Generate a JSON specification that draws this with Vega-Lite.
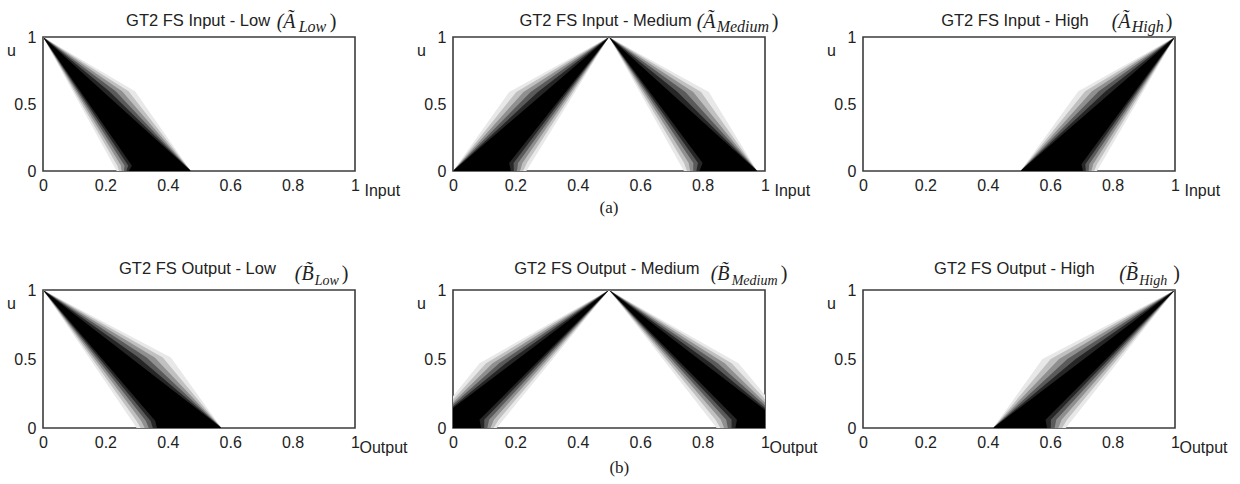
{
"$schema": "https://vega.github.io/schema/vega-lite/v6.json",
"background": "white",
"autosize": {"type": "pad"},
"padding": {"left": 5, "top": 11, "right": 5, "bottom": 5},
"config": {
  "view": {"stroke": "#3c3c3c", "strokeWidth": 1.6},
  "axis": {"domain": false, "ticks": false, "tickSize": 0, "grid": false, "labelFont": "Liberation Sans", "labelFontSize": 16, "labelColor": "#222", "titleFont": "Liberation Sans", "titleFontSize": 16, "titleFontWeight": "normal", "titleColor": "#222", "labelFlush": false},
  "axisX": {"labelPadding": 6},
  "axisY": {"labelPadding": 7},
  "text": {"color": "#222"}
},
"datasets": {
"fs": [
{"set":"AL","side":"M","lvl":0,"u":0,"xa":0.236,"xb":0.474},{"set":"AL","side":"M","lvl":0,"u":0.04,"xa":0.2266,"xb":0.462},{"set":"AL","side":"M","lvl":0,"u":0.596,"xa":0.0953,"xb":0.295},{"set":"AL","side":"M","lvl":0,"u":1,"xa":0,"xb":0},
{"set":"AL","side":"M","lvl":1,"u":0,"xa":0.2438,"xb":0.474},{"set":"AL","side":"M","lvl":1,"u":0.04,"xa":0.2383,"xb":0.4606},{"set":"AL","side":"M","lvl":1,"u":0.596,"xa":0.1002,"xb":0.2743},{"set":"AL","side":"M","lvl":1,"u":1,"xa":0,"xb":0},
{"set":"AL","side":"M","lvl":2,"u":0,"xa":0.2516,"xb":0.474},{"set":"AL","side":"M","lvl":2,"u":0.04,"xa":0.25,"xb":0.4592},{"set":"AL","side":"M","lvl":2,"u":0.596,"xa":0.1051,"xb":0.2536},{"set":"AL","side":"M","lvl":2,"u":1,"xa":0,"xb":0},
{"set":"AL","side":"M","lvl":3,"u":0,"xa":0.2594,"xb":0.474},{"set":"AL","side":"M","lvl":3,"u":0.04,"xa":0.2616,"xb":0.4578},{"set":"AL","side":"M","lvl":3,"u":0.596,"xa":0.1101,"xb":0.2329},{"set":"AL","side":"M","lvl":3,"u":1,"xa":0,"xb":0},
{"set":"AL","side":"M","lvl":4,"u":0,"xa":0.2672,"xb":0.474},{"set":"AL","side":"M","lvl":4,"u":0.04,"xa":0.2733,"xb":0.4564},{"set":"AL","side":"M","lvl":4,"u":0.596,"xa":0.115,"xb":0.2122},{"set":"AL","side":"M","lvl":4,"u":1,"xa":0,"xb":0},
{"set":"AL","side":"M","lvl":5,"u":0,"xa":0.275,"xb":0.474},{"set":"AL","side":"M","lvl":5,"u":0.04,"xa":0.285,"xb":0.455},{"set":"AL","side":"M","lvl":5,"u":0.596,"xa":0.1199,"xb":0.1915},{"set":"AL","side":"M","lvl":5,"u":1,"xa":0,"xb":0},

{"set":"AM","side":"L","lvl":0,"u":0,"xa":0,"xb":0.235},{"set":"AM","side":"L","lvl":0,"u":0.06,"xa":0.0183,"xb":0.2509},{"set":"AM","side":"L","lvl":0,"u":0.59,"xa":0.18,"xb":0.3914},{"set":"AM","side":"L","lvl":0,"u":1,"xa":0.5,"xb":0.5},
{"set":"AM","side":"L","lvl":1,"u":0,"xa":0,"xb":0.225},{"set":"AM","side":"L","lvl":1,"u":0.06,"xa":0.0206,"xb":0.2367},{"set":"AM","side":"L","lvl":1,"u":0.59,"xa":0.203,"xb":0.3852},{"set":"AM","side":"L","lvl":1,"u":1,"xa":0.5,"xb":0.5},
{"set":"AM","side":"L","lvl":2,"u":0,"xa":0,"xb":0.215},{"set":"AM","side":"L","lvl":2,"u":0.06,"xa":0.023,"xb":0.2225},{"set":"AM","side":"L","lvl":2,"u":0.59,"xa":0.226,"xb":0.379},{"set":"AM","side":"L","lvl":2,"u":1,"xa":0.5,"xb":0.5},
{"set":"AM","side":"L","lvl":3,"u":0,"xa":0,"xb":0.205},{"set":"AM","side":"L","lvl":3,"u":0.06,"xa":0.0253,"xb":0.2084},{"set":"AM","side":"L","lvl":3,"u":0.59,"xa":0.249,"xb":0.3728},{"set":"AM","side":"L","lvl":3,"u":1,"xa":0.5,"xb":0.5},
{"set":"AM","side":"L","lvl":4,"u":0,"xa":0,"xb":0.195},{"set":"AM","side":"L","lvl":4,"u":0.06,"xa":0.0277,"xb":0.1942},{"set":"AM","side":"L","lvl":4,"u":0.59,"xa":0.272,"xb":0.3666},{"set":"AM","side":"L","lvl":4,"u":1,"xa":0.5,"xb":0.5},
{"set":"AM","side":"L","lvl":5,"u":0,"xa":0,"xb":0.185},{"set":"AM","side":"L","lvl":5,"u":0.06,"xa":0.03,"xb":0.18},{"set":"AM","side":"L","lvl":5,"u":0.59,"xa":0.295,"xb":0.3604},{"set":"AM","side":"L","lvl":5,"u":1,"xa":0.5,"xb":0.5},
{"set":"AM","side":"R","lvl":0,"u":0,"xa":0.74,"xb":0.975},{"set":"AM","side":"R","lvl":0,"u":0.06,"xa":0.7256,"xb":0.9592},{"set":"AM","side":"R","lvl":0,"u":0.59,"xa":0.5984,"xb":0.82},{"set":"AM","side":"R","lvl":0,"u":1,"xa":0.5,"xb":0.5},
{"set":"AM","side":"R","lvl":1,"u":0,"xa":0.75,"xb":0.975},{"set":"AM","side":"R","lvl":1,"u":0.06,"xa":0.7405,"xb":0.9567},{"set":"AM","side":"R","lvl":1,"u":0.59,"xa":0.6049,"xb":0.795},{"set":"AM","side":"R","lvl":1,"u":1,"xa":0.5,"xb":0.5},
{"set":"AM","side":"R","lvl":2,"u":0,"xa":0.76,"xb":0.975},{"set":"AM","side":"R","lvl":2,"u":0.06,"xa":0.7554,"xb":0.9541},{"set":"AM","side":"R","lvl":2,"u":0.59,"xa":0.6114,"xb":0.7699},{"set":"AM","side":"R","lvl":2,"u":1,"xa":0.5,"xb":0.5},
{"set":"AM","side":"R","lvl":3,"u":0,"xa":0.77,"xb":0.975},{"set":"AM","side":"R","lvl":3,"u":0.06,"xa":0.7702,"xb":0.9516},{"set":"AM","side":"R","lvl":3,"u":0.59,"xa":0.6179,"xb":0.7449},{"set":"AM","side":"R","lvl":3,"u":1,"xa":0.5,"xb":0.5},
{"set":"AM","side":"R","lvl":4,"u":0,"xa":0.78,"xb":0.975},{"set":"AM","side":"R","lvl":4,"u":0.06,"xa":0.7851,"xb":0.949},{"set":"AM","side":"R","lvl":4,"u":0.59,"xa":0.6244,"xb":0.7198},{"set":"AM","side":"R","lvl":4,"u":1,"xa":0.5,"xb":0.5},
{"set":"AM","side":"R","lvl":5,"u":0,"xa":0.79,"xb":0.975},{"set":"AM","side":"R","lvl":5,"u":0.06,"xa":0.8,"xb":0.9465},{"set":"AM","side":"R","lvl":5,"u":0.59,"xa":0.6309,"xb":0.6948},{"set":"AM","side":"R","lvl":5,"u":1,"xa":0.5,"xb":0.5},

{"set":"AH","side":"M","lvl":0,"u":0,"xa":0.505,"xb":0.75},{"set":"AH","side":"M","lvl":0,"u":0.05,"xa":0.5205,"xb":0.7625},{"set":"AH","side":"M","lvl":0,"u":0.595,"xa":0.69,"xb":0.8988},{"set":"AH","side":"M","lvl":0,"u":1,"xa":1,"xb":1},
{"set":"AH","side":"M","lvl":1,"u":0,"xa":0.505,"xb":0.741},{"set":"AH","side":"M","lvl":1,"u":0.05,"xa":0.5224,"xb":0.75},{"set":"AH","side":"M","lvl":1,"u":0.595,"xa":0.7119,"xb":0.8935},{"set":"AH","side":"M","lvl":1,"u":1,"xa":1,"xb":1},
{"set":"AH","side":"M","lvl":2,"u":0,"xa":0.505,"xb":0.732},{"set":"AH","side":"M","lvl":2,"u":0.05,"xa":0.5242,"xb":0.7375},{"set":"AH","side":"M","lvl":2,"u":0.595,"xa":0.7338,"xb":0.8881},{"set":"AH","side":"M","lvl":2,"u":1,"xa":1,"xb":1},
{"set":"AH","side":"M","lvl":3,"u":0,"xa":0.505,"xb":0.723},{"set":"AH","side":"M","lvl":3,"u":0.05,"xa":0.5261,"xb":0.725},{"set":"AH","side":"M","lvl":3,"u":0.595,"xa":0.7557,"xb":0.8828},{"set":"AH","side":"M","lvl":3,"u":1,"xa":1,"xb":1},
{"set":"AH","side":"M","lvl":4,"u":0,"xa":0.505,"xb":0.714},{"set":"AH","side":"M","lvl":4,"u":0.05,"xa":0.5279,"xb":0.7125},{"set":"AH","side":"M","lvl":4,"u":0.595,"xa":0.7776,"xb":0.8774},{"set":"AH","side":"M","lvl":4,"u":1,"xa":1,"xb":1},
{"set":"AH","side":"M","lvl":5,"u":0,"xa":0.505,"xb":0.705},{"set":"AH","side":"M","lvl":5,"u":0.05,"xa":0.5298,"xb":0.7},{"set":"AH","side":"M","lvl":5,"u":0.595,"xa":0.7995,"xb":0.8721},{"set":"AH","side":"M","lvl":5,"u":1,"xa":1,"xb":1},

{"set":"BL","side":"M","lvl":0,"u":0,"xa":0.3,"xb":0.572},{"set":"BL","side":"M","lvl":0,"u":0.05,"xa":0.285,"xb":0.5561},{"set":"BL","side":"M","lvl":0,"u":0.51,"xa":0.147,"xb":0.41},{"set":"BL","side":"M","lvl":0,"u":1,"xa":0,"xb":0},
{"set":"BL","side":"M","lvl":1,"u":0,"xa":0.313,"xb":0.572},{"set":"BL","side":"M","lvl":1,"u":0.05,"xa":0.3,"xb":0.5536},{"set":"BL","side":"M","lvl":1,"u":0.51,"xa":0.1547,"xb":0.3841},{"set":"BL","side":"M","lvl":1,"u":1,"xa":0,"xb":0},
{"set":"BL","side":"M","lvl":2,"u":0,"xa":0.326,"xb":0.572},{"set":"BL","side":"M","lvl":2,"u":0.05,"xa":0.315,"xb":0.551},{"set":"BL","side":"M","lvl":2,"u":0.51,"xa":0.1625,"xb":0.3581},{"set":"BL","side":"M","lvl":2,"u":1,"xa":0,"xb":0},
{"set":"BL","side":"M","lvl":3,"u":0,"xa":0.339,"xb":0.572},{"set":"BL","side":"M","lvl":3,"u":0.05,"xa":0.33,"xb":0.5485},{"set":"BL","side":"M","lvl":3,"u":0.51,"xa":0.1702,"xb":0.3322},{"set":"BL","side":"M","lvl":3,"u":1,"xa":0,"xb":0},
{"set":"BL","side":"M","lvl":4,"u":0,"xa":0.352,"xb":0.572},{"set":"BL","side":"M","lvl":4,"u":0.05,"xa":0.345,"xb":0.5459},{"set":"BL","side":"M","lvl":4,"u":0.51,"xa":0.178,"xb":0.3062},{"set":"BL","side":"M","lvl":4,"u":1,"xa":0,"xb":0},
{"set":"BL","side":"M","lvl":5,"u":0,"xa":0.365,"xb":0.572},{"set":"BL","side":"M","lvl":5,"u":0.05,"xa":0.36,"xb":0.5434},{"set":"BL","side":"M","lvl":5,"u":0.51,"xa":0.1857,"xb":0.2803},{"set":"BL","side":"M","lvl":5,"u":1,"xa":0,"xb":0},

{"set":"BM","side":"L","lvl":0,"u":0,"xa":-0.09,"xb":0.14},{"set":"BM","side":"L","lvl":0,"u":0.06,"xa":-0.0602,"xb":0.1616},{"set":"BM","side":"L","lvl":0,"u":0.47,"xa":0.085,"xb":0.3092},{"set":"BM","side":"L","lvl":0,"u":1,"xa":0.5,"xb":0.5},
{"set":"BM","side":"L","lvl":1,"u":0,"xa":-0.089,"xb":0.13},{"set":"BM","side":"L","lvl":1,"u":0.06,"xa":-0.0581,"xb":0.1463},{"set":"BM","side":"L","lvl":1,"u":0.47,"xa":0.106,"xb":0.3006},{"set":"BM","side":"L","lvl":1,"u":1,"xa":0.5,"xb":0.5},
{"set":"BM","side":"L","lvl":2,"u":0,"xa":-0.0879,"xb":0.12},{"set":"BM","side":"L","lvl":2,"u":0.06,"xa":-0.056,"xb":0.131},{"set":"BM","side":"L","lvl":2,"u":0.47,"xa":0.127,"xb":0.2919},{"set":"BM","side":"L","lvl":2,"u":1,"xa":0.5,"xb":0.5},
{"set":"BM","side":"L","lvl":3,"u":0,"xa":-0.0869,"xb":0.11},{"set":"BM","side":"L","lvl":3,"u":0.06,"xa":-0.0539,"xb":0.1156},{"set":"BM","side":"L","lvl":3,"u":0.47,"xa":0.1481,"xb":0.2833},{"set":"BM","side":"L","lvl":3,"u":1,"xa":0.5,"xb":0.5},
{"set":"BM","side":"L","lvl":4,"u":0,"xa":-0.0858,"xb":0.1},{"set":"BM","side":"L","lvl":4,"u":0.06,"xa":-0.0518,"xb":0.1003},{"set":"BM","side":"L","lvl":4,"u":0.47,"xa":0.1691,"xb":0.2746},{"set":"BM","side":"L","lvl":4,"u":1,"xa":0.5,"xb":0.5},
{"set":"BM","side":"L","lvl":5,"u":0,"xa":-0.0848,"xb":0.09},{"set":"BM","side":"L","lvl":5,"u":0.06,"xa":-0.0497,"xb":0.085},{"set":"BM","side":"L","lvl":5,"u":0.47,"xa":0.1901,"xb":0.266},{"set":"BM","side":"L","lvl":5,"u":1,"xa":0.5,"xb":0.5},
{"set":"BM","side":"R","lvl":0,"u":0,"xa":0.845,"xb":1.09},{"set":"BM","side":"R","lvl":0,"u":0.06,"xa":0.8243,"xb":1.0665},{"set":"BM","side":"R","lvl":0,"u":0.47,"xa":0.6829,"xb":0.915},{"set":"BM","side":"R","lvl":0,"u":1,"xa":0.5,"xb":0.5},
{"set":"BM","side":"R","lvl":1,"u":0,"xa":0.857,"xb":1.0869},{"set":"BM","side":"R","lvl":1,"u":0.06,"xa":0.8414,"xb":1.0612},{"set":"BM","side":"R","lvl":1,"u":0.47,"xa":0.6926,"xb":0.8929},{"set":"BM","side":"R","lvl":1,"u":1,"xa":0.5,"xb":0.5},
{"set":"BM","side":"R","lvl":2,"u":0,"xa":0.869,"xb":1.0839},{"set":"BM","side":"R","lvl":2,"u":0.06,"xa":0.8586,"xb":1.056},{"set":"BM","side":"R","lvl":2,"u":0.47,"xa":0.7022,"xb":0.8708},{"set":"BM","side":"R","lvl":2,"u":1,"xa":0.5,"xb":0.5},
{"set":"BM","side":"R","lvl":3,"u":0,"xa":0.881,"xb":1.0808},{"set":"BM","side":"R","lvl":3,"u":0.06,"xa":0.8757,"xb":1.0507},{"set":"BM","side":"R","lvl":3,"u":0.47,"xa":0.7119,"xb":0.8488},{"set":"BM","side":"R","lvl":3,"u":1,"xa":0.5,"xb":0.5},
{"set":"BM","side":"R","lvl":4,"u":0,"xa":0.893,"xb":1.0778},{"set":"BM","side":"R","lvl":4,"u":0.06,"xa":0.8929,"xb":1.0455},{"set":"BM","side":"R","lvl":4,"u":0.47,"xa":0.7215,"xb":0.8267},{"set":"BM","side":"R","lvl":4,"u":1,"xa":0.5,"xb":0.5},
{"set":"BM","side":"R","lvl":5,"u":0,"xa":0.905,"xb":1.0747},{"set":"BM","side":"R","lvl":5,"u":0.06,"xa":0.91,"xb":1.0402},{"set":"BM","side":"R","lvl":5,"u":0.47,"xa":0.7312,"xb":0.8046},{"set":"BM","side":"R","lvl":5,"u":1,"xa":0.5,"xb":0.5},

{"set":"BH","side":"M","lvl":0,"u":0,"xa":0.417,"xb":0.65},{"set":"BH","side":"M","lvl":0,"u":0.06,"xa":0.436,"xb":0.671},{"set":"BH","side":"M","lvl":0,"u":0.5,"xa":0.575,"xb":0.825},{"set":"BH","side":"M","lvl":0,"u":1,"xa":1,"xb":1},
{"set":"BH","side":"M","lvl":1,"u":0,"xa":0.417,"xb":0.638},{"set":"BH","side":"M","lvl":1,"u":0.06,"xa":0.4392,"xb":0.6538},{"set":"BH","side":"M","lvl":1,"u":0.5,"xa":0.6017,"xb":0.8159},{"set":"BH","side":"M","lvl":1,"u":1,"xa":1,"xb":1},
{"set":"BH","side":"M","lvl":2,"u":0,"xa":0.417,"xb":0.626},{"set":"BH","side":"M","lvl":2,"u":0.06,"xa":0.4424,"xb":0.6366},{"set":"BH","side":"M","lvl":2,"u":0.5,"xa":0.6284,"xb":0.8067},{"set":"BH","side":"M","lvl":2,"u":1,"xa":1,"xb":1},
{"set":"BH","side":"M","lvl":3,"u":0,"xa":0.417,"xb":0.614},{"set":"BH","side":"M","lvl":3,"u":0.06,"xa":0.4456,"xb":0.6194},{"set":"BH","side":"M","lvl":3,"u":0.5,"xa":0.6551,"xb":0.7976},{"set":"BH","side":"M","lvl":3,"u":1,"xa":1,"xb":1},
{"set":"BH","side":"M","lvl":4,"u":0,"xa":0.417,"xb":0.602},{"set":"BH","side":"M","lvl":4,"u":0.06,"xa":0.4488,"xb":0.6022},{"set":"BH","side":"M","lvl":4,"u":0.5,"xa":0.6818,"xb":0.7884},{"set":"BH","side":"M","lvl":4,"u":1,"xa":1,"xb":1},
{"set":"BH","side":"M","lvl":5,"u":0,"xa":0.417,"xb":0.59},{"set":"BH","side":"M","lvl":5,"u":0.06,"xa":0.452,"xb":0.585},{"set":"BH","side":"M","lvl":5,"u":0.5,"xa":0.7085,"xb":0.7793},{"set":"BH","side":"M","lvl":5,"u":1,"xa":1,"xb":1}
]
},
"columns": 3,
"bounds": "flush",
"align": "each",
"spacing": {"row": 119, "column": 98},
"concat": [
{
 "width": 312, "height": 134,
 "layer": [
  {"data": {"name": "fs"}, "transform": [{"filter": "datum.set === 'AL'"}],
   "mark": {"type": "area", "orient": "horizontal", "clip": true},
   "encoding": {
    "y": {"field": "u", "type": "quantitative", "scale": {"domain": [0, 1], "nice": false, "zero": false}, "axis": {"values": [0, 0.5, 1], "format": "~g", "title": "u", "titleAngle": 0, "titleX": -32, "titleY": 13, "titleAlign": "center", "titleBaseline": "middle"}},
    "x": {"field": "xa", "type": "quantitative", "stack": null, "scale": {"domain": [0, 1], "nice": false, "zero": false}, "axis": {"values": [0, 0.2, 0.4, 0.6, 0.8, 1], "format": "~g", "title": "Input", "titleX": 321, "titleY": 24, "titleAlign": "left", "titleBaseline": "alphabetic"}},
    "x2": {"field": "xb"},
    "color": {"field": "lvl", "type": "ordinal", "scale": {"domain": [0, 1, 2, 3, 4, 5], "range": ["#e8e8e8", "#c0c0c0", "#8f8f8f", "#5a5a5a", "#262626", "#000000"]}, "legend": null},
    "detail": {"field": "side"}
   }},
  {"data": {"values": [{}]}, "mark": {"type": "text", "font": "Liberation Sans", "fontSize": 16.5, "align": "center", "baseline": "alphabetic"}, "encoding": {"x": {"datum": 0.497}, "y": {"datum": 1.082}, "text": {"value": "GT2 FS Input - Low"}}},
  {"data": {"values": [{}]}, "mark": {"type": "text", "font": "Liberation Serif", "fontStyle": "italic", "fontSize": 20, "align": "left", "baseline": "alphabetic"}, "encoding": {"x": {"datum": 0.749}, "y": {"datum": 1.064}, "text": {"value": "(Ã"}}},
  {"data": {"values": [{}]}, "mark": {"type": "text", "font": "Liberation Serif", "fontStyle": "italic", "fontSize": 16, "align": "left", "baseline": "alphabetic", "dx": 22, "dy": 4}, "encoding": {"x": {"datum": 0.749}, "y": {"datum": 1.064}, "text": {"value": "Low"}}},
  {"data": {"values": [{}]}, "mark": {"type": "text", "font": "Liberation Serif", "fontSize": 20, "align": "left", "baseline": "alphabetic", "dx": 53}, "encoding": {"x": {"datum": 0.749}, "y": {"datum": 1.064}, "text": {"value": ")"}}}
 ]
},
{
 "width": 312, "height": 134,
 "layer": [
  {"data": {"name": "fs"}, "transform": [{"filter": "datum.set === 'AM'"}],
   "mark": {"type": "area", "orient": "horizontal", "clip": true},
   "encoding": {
    "y": {"field": "u", "type": "quantitative", "scale": {"domain": [0, 1], "nice": false, "zero": false}, "axis": {"values": [0, 0.5, 1], "format": "~g", "title": "u", "titleAngle": 0, "titleX": -32, "titleY": 13, "titleAlign": "center", "titleBaseline": "middle"}},
    "x": {"field": "xa", "type": "quantitative", "stack": null, "scale": {"domain": [0, 1], "nice": false, "zero": false}, "axis": {"values": [0, 0.2, 0.4, 0.6, 0.8, 1], "format": "~g", "title": "Input", "titleX": 321, "titleY": 24, "titleAlign": "left", "titleBaseline": "alphabetic"}},
    "x2": {"field": "xb"},
    "color": {"field": "lvl", "type": "ordinal", "scale": {"domain": [0, 1, 2, 3, 4, 5], "range": ["#e8e8e8", "#c0c0c0", "#8f8f8f", "#5a5a5a", "#262626", "#000000"]}, "legend": null},
    "detail": {"field": "side"}
   }},
  {"data": {"values": [{}]}, "mark": {"type": "text", "font": "Liberation Sans", "fontSize": 16.5, "align": "center", "baseline": "alphabetic"}, "encoding": {"x": {"datum": 0.489}, "y": {"datum": 1.082}, "text": {"value": "GT2 FS Input - Medium"}}},
  {"data": {"values": [{}]}, "mark": {"type": "text", "font": "Liberation Serif", "fontStyle": "italic", "fontSize": 20, "align": "left", "baseline": "alphabetic"}, "encoding": {"x": {"datum": 0.781}, "y": {"datum": 1.064}, "text": {"value": "(Ã"}}},
  {"data": {"values": [{}]}, "mark": {"type": "text", "font": "Liberation Serif", "fontStyle": "italic", "fontSize": 16, "align": "left", "baseline": "alphabetic", "dx": 20, "dy": 4}, "encoding": {"x": {"datum": 0.781}, "y": {"datum": 1.064}, "text": {"value": "Medium"}}},
  {"data": {"values": [{}]}, "mark": {"type": "text", "font": "Liberation Serif", "fontSize": 20, "align": "left", "baseline": "alphabetic", "dx": 75}, "encoding": {"x": {"datum": 0.781}, "y": {"datum": 1.064}, "text": {"value": ")"}}},
  {"data": {"values": [{}]}, "mark": {"type": "text", "font": "Liberation Serif", "fontSize": 17, "align": "center", "baseline": "alphabetic"}, "encoding": {"x": {"datum": 0.5}, "y": {"datum": -0.315}, "text": {"value": "(a)"}}}
 ]
},
{
 "width": 312, "height": 134,
 "layer": [
  {"data": {"name": "fs"}, "transform": [{"filter": "datum.set === 'AH'"}],
   "mark": {"type": "area", "orient": "horizontal", "clip": true},
   "encoding": {
    "y": {"field": "u", "type": "quantitative", "scale": {"domain": [0, 1], "nice": false, "zero": false}, "axis": {"values": [0, 0.5, 1], "format": "~g", "title": "u", "titleAngle": 0, "titleX": -32, "titleY": 13, "titleAlign": "center", "titleBaseline": "middle"}},
    "x": {"field": "xa", "type": "quantitative", "stack": null, "scale": {"domain": [0, 1], "nice": false, "zero": false}, "axis": {"values": [0, 0.2, 0.4, 0.6, 0.8, 1], "format": "~g", "title": "Input", "titleX": 321, "titleY": 24, "titleAlign": "left", "titleBaseline": "alphabetic"}},
    "x2": {"field": "xb"},
    "color": {"field": "lvl", "type": "ordinal", "scale": {"domain": [0, 1, 2, 3, 4, 5], "range": ["#e8e8e8", "#c0c0c0", "#8f8f8f", "#5a5a5a", "#262626", "#000000"]}, "legend": null},
    "detail": {"field": "side"}
   }},
  {"data": {"values": [{}]}, "mark": {"type": "text", "font": "Liberation Sans", "fontSize": 16.5, "align": "center", "baseline": "alphabetic"}, "encoding": {"x": {"datum": 0.487}, "y": {"datum": 1.082}, "text": {"value": "GT2 FS Input - High"}}},
  {"data": {"values": [{}]}, "mark": {"type": "text", "font": "Liberation Serif", "fontStyle": "italic", "fontSize": 20, "align": "left", "baseline": "alphabetic"}, "encoding": {"x": {"datum": 0.797}, "y": {"datum": 1.064}, "text": {"value": "(Ã"}}},
  {"data": {"values": [{}]}, "mark": {"type": "text", "font": "Liberation Serif", "fontStyle": "italic", "fontSize": 16, "align": "left", "baseline": "alphabetic", "dx": 20, "dy": 4}, "encoding": {"x": {"datum": 0.797}, "y": {"datum": 1.064}, "text": {"value": "High"}}},
  {"data": {"values": [{}]}, "mark": {"type": "text", "font": "Liberation Serif", "fontSize": 20, "align": "left", "baseline": "alphabetic", "dx": 54}, "encoding": {"x": {"datum": 0.797}, "y": {"datum": 1.064}, "text": {"value": ")"}}}
 ]
},
{
 "width": 312, "height": 138,
 "layer": [
  {"data": {"name": "fs"}, "transform": [{"filter": "datum.set === 'BL'"}],
   "mark": {"type": "area", "orient": "horizontal", "clip": true},
   "encoding": {
    "y": {"field": "u", "type": "quantitative", "scale": {"domain": [0, 1], "nice": false, "zero": false}, "axis": {"values": [0, 0.5, 1], "format": "~g", "title": "u", "titleAngle": 0, "titleX": -32, "titleY": 13, "titleAlign": "center", "titleBaseline": "middle"}},
    "x": {"field": "xa", "type": "quantitative", "stack": null, "scale": {"domain": [0, 1], "nice": false, "zero": false}, "axis": {"values": [0, 0.2, 0.4, 0.6, 0.8, 1], "format": "~g", "title": "Output", "titleX": 316, "titleY": 24, "titleAlign": "left", "titleBaseline": "alphabetic"}},
    "x2": {"field": "xb"},
    "color": {"field": "lvl", "type": "ordinal", "scale": {"domain": [0, 1, 2, 3, 4, 5], "range": ["#e8e8e8", "#c0c0c0", "#8f8f8f", "#5a5a5a", "#262626", "#000000"]}, "legend": null},
    "detail": {"field": "side"}
   }},
  {"data": {"values": [{}]}, "mark": {"type": "text", "font": "Liberation Sans", "fontSize": 16.5, "align": "center", "baseline": "alphabetic"}, "encoding": {"x": {"datum": 0.495}, "y": {"datum": 1.116}, "text": {"value": "GT2 FS Output - Low"}}},
  {"data": {"values": [{}]}, "mark": {"type": "text", "font": "Liberation Serif", "fontStyle": "italic", "fontSize": 20, "align": "left", "baseline": "alphabetic"}, "encoding": {"x": {"datum": 0.807}, "y": {"datum": 1.076}, "text": {"value": "(B\u0303"}}},
  {"data": {"values": [{}]}, "mark": {"type": "text", "font": "Liberation Serif", "fontStyle": "italic", "fontSize": 14, "align": "left", "baseline": "alphabetic", "dx": 20, "dy": 5}, "encoding": {"x": {"datum": 0.807}, "y": {"datum": 1.076}, "text": {"value": "Low"}}},
  {"data": {"values": [{}]}, "mark": {"type": "text", "font": "Liberation Serif", "fontSize": 20, "align": "left", "baseline": "alphabetic", "dx": 47}, "encoding": {"x": {"datum": 0.807}, "y": {"datum": 1.076}, "text": {"value": ")"}}}
 ]
},
{
 "width": 312, "height": 138,
 "layer": [
  {"data": {"name": "fs"}, "transform": [{"filter": "datum.set === 'BM'"}],
   "mark": {"type": "area", "orient": "horizontal", "clip": true},
   "encoding": {
    "y": {"field": "u", "type": "quantitative", "scale": {"domain": [0, 1], "nice": false, "zero": false}, "axis": {"values": [0, 0.5, 1], "format": "~g", "title": "u", "titleAngle": 0, "titleX": -32, "titleY": 13, "titleAlign": "center", "titleBaseline": "middle"}},
    "x": {"field": "xa", "type": "quantitative", "stack": null, "scale": {"domain": [0, 1], "nice": false, "zero": false}, "axis": {"values": [0, 0.2, 0.4, 0.6, 0.8, 1], "format": "~g", "title": "Output", "titleX": 316, "titleY": 24, "titleAlign": "left", "titleBaseline": "alphabetic"}},
    "x2": {"field": "xb"},
    "color": {"field": "lvl", "type": "ordinal", "scale": {"domain": [0, 1, 2, 3, 4, 5], "range": ["#e8e8e8", "#c0c0c0", "#8f8f8f", "#5a5a5a", "#262626", "#000000"]}, "legend": null},
    "detail": {"field": "side"}
   }},
  {"data": {"values": [{}]}, "mark": {"type": "text", "font": "Liberation Sans", "fontSize": 16.5, "align": "center", "baseline": "alphabetic"}, "encoding": {"x": {"datum": 0.493}, "y": {"datum": 1.116}, "text": {"value": "GT2 FS Output - Medium"}}},
  {"data": {"values": [{}]}, "mark": {"type": "text", "font": "Liberation Serif", "fontStyle": "italic", "fontSize": 20, "align": "left", "baseline": "alphabetic"}, "encoding": {"x": {"datum": 0.826}, "y": {"datum": 1.076}, "text": {"value": "(B\u0303"}}},
  {"data": {"values": [{}]}, "mark": {"type": "text", "font": "Liberation Serif", "fontStyle": "italic", "fontSize": 14, "align": "left", "baseline": "alphabetic", "dx": 21, "dy": 5}, "encoding": {"x": {"datum": 0.826}, "y": {"datum": 1.076}, "text": {"value": "Medium"}}},
  {"data": {"values": [{}]}, "mark": {"type": "text", "font": "Liberation Serif", "fontSize": 20, "align": "left", "baseline": "alphabetic", "dx": 70}, "encoding": {"x": {"datum": 0.826}, "y": {"datum": 1.076}, "text": {"value": ")"}}},
  {"data": {"values": [{}]}, "mark": {"type": "text", "font": "Liberation Serif", "fontSize": 17, "align": "center", "baseline": "alphabetic"}, "encoding": {"x": {"datum": 0.533}, "y": {"datum": -0.324}, "text": {"value": "(b)"}}}
 ]
},
{
 "width": 312, "height": 138,
 "layer": [
  {"data": {"name": "fs"}, "transform": [{"filter": "datum.set === 'BH'"}],
   "mark": {"type": "area", "orient": "horizontal", "clip": true},
   "encoding": {
    "y": {"field": "u", "type": "quantitative", "scale": {"domain": [0, 1], "nice": false, "zero": false}, "axis": {"values": [0, 0.5, 1], "format": "~g", "title": "u", "titleAngle": 0, "titleX": -32, "titleY": 13, "titleAlign": "center", "titleBaseline": "middle"}},
    "x": {"field": "xa", "type": "quantitative", "stack": null, "scale": {"domain": [0, 1], "nice": false, "zero": false}, "axis": {"values": [0, 0.2, 0.4, 0.6, 0.8, 1], "format": "~g", "title": "Output", "titleX": 316, "titleY": 24, "titleAlign": "left", "titleBaseline": "alphabetic"}},
    "x2": {"field": "xb"},
    "color": {"field": "lvl", "type": "ordinal", "scale": {"domain": [0, 1, 2, 3, 4, 5], "range": ["#e8e8e8", "#c0c0c0", "#8f8f8f", "#5a5a5a", "#262626", "#000000"]}, "legend": null},
    "detail": {"field": "side"}
   }},
  {"data": {"values": [{}]}, "mark": {"type": "text", "font": "Liberation Sans", "fontSize": 16.5, "align": "center", "baseline": "alphabetic"}, "encoding": {"x": {"datum": 0.485}, "y": {"datum": 1.116}, "text": {"value": "GT2 FS Output - High"}}},
  {"data": {"values": [{}]}, "mark": {"type": "text", "font": "Liberation Serif", "fontStyle": "italic", "fontSize": 20, "align": "left", "baseline": "alphabetic"}, "encoding": {"x": {"datum": 0.821}, "y": {"datum": 1.076}, "text": {"value": "(B\u0303"}}},
  {"data": {"values": [{}]}, "mark": {"type": "text", "font": "Liberation Serif", "fontStyle": "italic", "fontSize": 14, "align": "left", "baseline": "alphabetic", "dx": 20, "dy": 5}, "encoding": {"x": {"datum": 0.821}, "y": {"datum": 1.076}, "text": {"value": "High"}}},
  {"data": {"values": [{}]}, "mark": {"type": "text", "font": "Liberation Serif", "fontSize": 20, "align": "left", "baseline": "alphabetic", "dx": 54}, "encoding": {"x": {"datum": 0.821}, "y": {"datum": 1.076}, "text": {"value": ")"}}}
 ]
}
]
}
